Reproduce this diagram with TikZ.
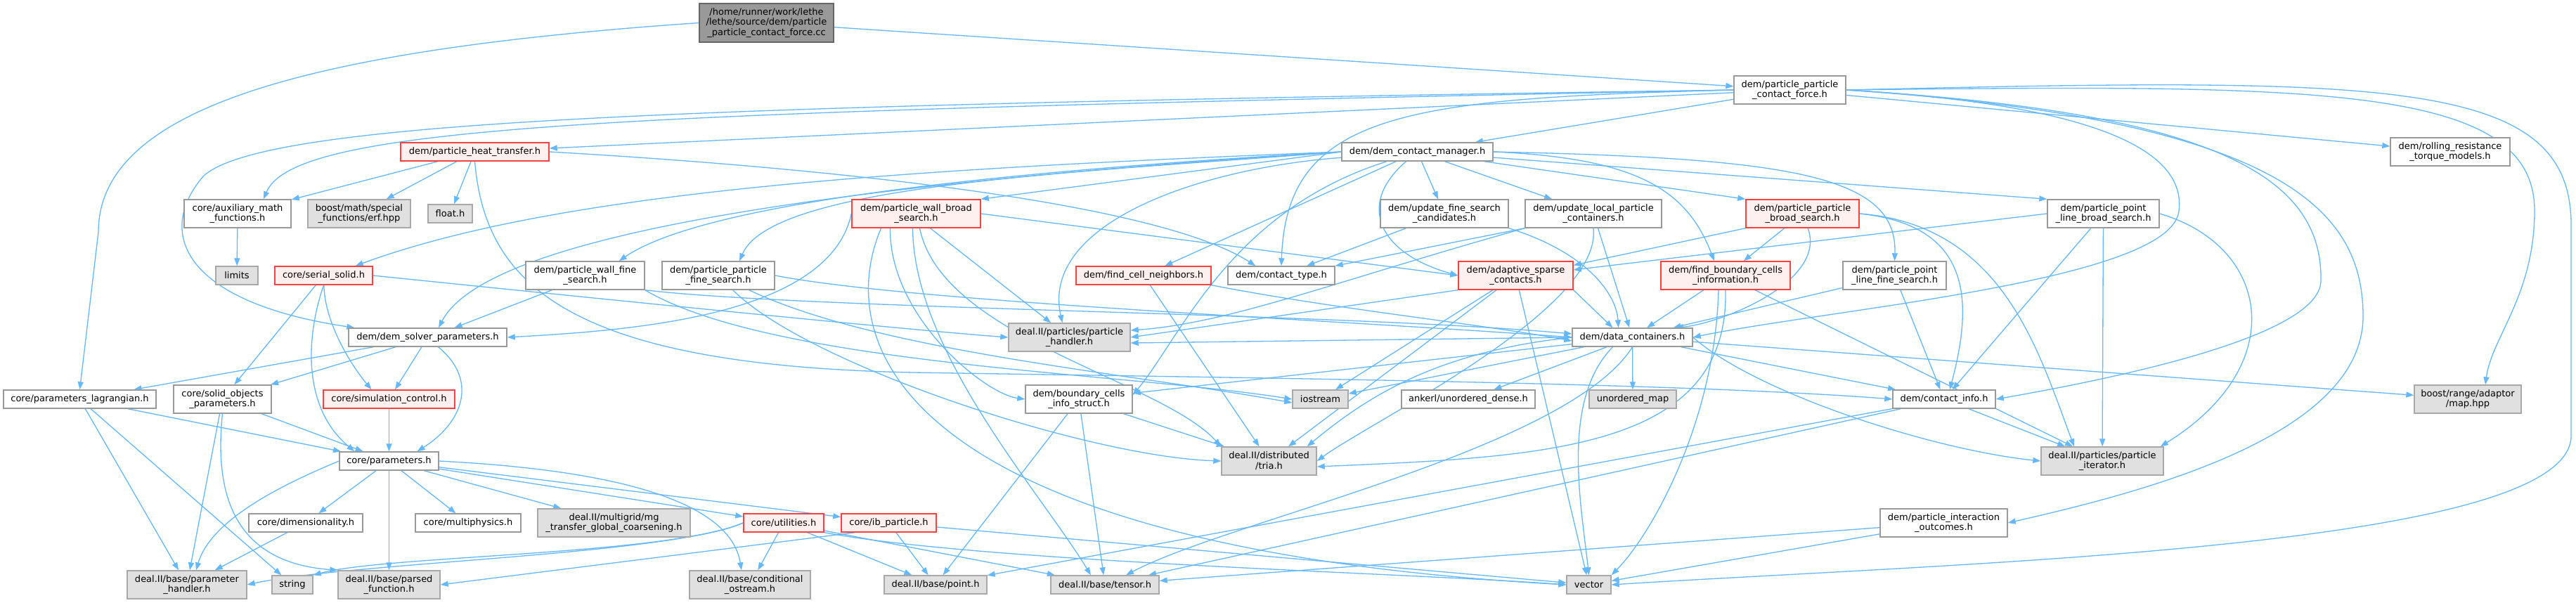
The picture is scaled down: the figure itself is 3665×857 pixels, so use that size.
\documentclass[tikz,border=0pt]{standalone}
\usepackage{fontspec}
\setmainfont{DejaVu Sans}
\usetikzlibrary{arrows.meta,backgrounds}
\definecolor{edgec}{HTML}{63B8FF}
\definecolor{wborder}{HTML}{999999}
\definecolor{rborder}{HTML}{FF4040}
\definecolor{rfill}{HTML}{FFF0F0}
\definecolor{gfill}{HTML}{E0E0E0}
\definecolor{gborder}{HTML}{A8A8A8}
\definecolor{sfill}{HTML}{999999}
\definecolor{sborder}{HTML}{666666}
\tikzset{
  basenode/.style={draw, inner sep=0pt, align=center, line width=1.4pt, font=\fontsize{13pt}{14.7pt}\selectfont},
  wnode/.style={basenode, draw=wborder, fill=white},
  rnode/.style={basenode, draw=rborder, fill=rfill},
  gnode/.style={basenode, draw=gborder, fill=gfill},
  snode/.style={basenode, draw=sborder, fill=sfill},
  edg/.style={draw=edgec, line width=1.3pt, -{Triangle[length=11pt,width=8pt]}},
}
\newcommand\mknode[7]{\node[#2, minimum width=#5pt, minimum height=#6pt] (#1) at (#3,#4) {#7};}
\begin{document}
\begin{tikzpicture}[x=1pt,y=-1pt]
\useasboundingbox (0,0) rectangle (3665,857);
% nodes
\mknode{src}{snode}{1090.5}{32.5}{191}{55}{/home/runner/work/lethe\\/lethe/source/dem/particle\\\_particle\_contact\_force.cc}
\mknode{ppcf}{wnode}{2546.5}{128}{159}{40}{dem/particle\_particle\\\_contact\_force.h}
\mknode{heat}{rnode}{675.5}{216}{211}{26}{dem/particle\_heat\_transfer.h}
\mknode{dcm}{wnode}{2016.5}{216}{215}{26}{dem/dem\_contact\_manager.h}
\mknode{rolling}{wnode}{3486}{216}{170}{40}{dem/rolling\_resistance\\\_torque\_models.h}
\mknode{auxmath}{wnode}{338}{304}{152}{40}{core/auxiliary\_math\\\_functions.h}
\mknode{erf}{gnode}{511}{304}{146}{40}{boost/math/special\\\_functions/erf.hpp}
\mknode{float}{gnode}{640.5}{304}{63}{26}{float.h}
\mknode{pwbroad}{rnode}{1303.5}{304}{183}{40}{dem/particle\_wall\_broad\\\_search.h}
\mknode{ufsc}{wnode}{2055}{304}{182}{40}{dem/update\_fine\_search\\\_candidates.h}
\mknode{ulpc}{wnode}{2267}{304}{194}{40}{dem/update\_local\_particle\\\_containers.h}
\mknode{ppbroad}{rnode}{2564.5}{304}{161}{40}{dem/particle\_particle\\\_broad\_search.h}
\mknode{pplbroad}{wnode}{2992.5}{304}{159}{40}{dem/particle\_point\\\_line\_broad\_search.h}
\mknode{limits}{gnode}{337}{392}{60}{26}{limits}
\mknode{serial}{rnode}{460.5}{392}{139}{26}{core/serial\_solid.h}
\mknode{pwfine}{wnode}{832.5}{392}{169}{40}{dem/particle\_wall\_fine\\\_search.h}
\mknode{ppfine}{wnode}{1022}{392}{160}{40}{dem/particle\_particle\\\_fine\_search.h}
\mknode{findcell}{rnode}{1627}{392}{192}{26}{dem/find\_cell\_neighbors.h}
\mknode{contacttype}{wnode}{1823}{392}{152}{26}{dem/contact\_type.h}
\mknode{adaptive}{rnode}{2156.5}{392}{163}{40}{dem/adaptive\_sparse\\\_contacts.h}
\mknode{findbound}{rnode}{2455}{392}{184}{40}{dem/find\_boundary\_cells\\\_information.h}
\mknode{pplfine}{wnode}{2695.5}{392}{147}{40}{dem/particle\_point\\\_line\_fine\_search.h}
\mknode{solverparams}{wnode}{608.5}{480}{225}{26}{dem/dem\_solver\_parameters.h}
\mknode{handler}{gnode}{1521.5}{480}{173}{40}{deal.II/particles/particle\\\_handler.h}
\mknode{datacont}{wnode}{2322.5}{480}{171}{26}{dem/data\_containers.h}
\mknode{paramlag}{wnode}{113.5}{568}{217}{26}{core/parameters\_lagrangian.h}
\mknode{solidobj}{wnode}{316.5}{568}{139}{40}{core/solid\_objects\\\_parameters.h}
\mknode{simctrl}{rnode}{553.5}{568}{187}{26}{core/simulation\_control.h}
\mknode{bcinfo}{wnode}{1535}{568}{152}{40}{dem/boundary\_cells\\\_info\_struct.h}
\mknode{iostream}{gnode}{1878.5}{568}{79}{26}{iostream}
\mknode{ankerl}{wnode}{2089}{568}{190}{26}{ankerl/unordered\_dense.h}
\mknode{umap}{gnode}{2323}{568}{124}{26}{unordered\_map}
\mknode{contactinfo}{wnode}{2766}{568}{146}{26}{dem/contact\_info.h}
\mknode{mapHpp}{gnode}{3511}{568}{152}{40}{boost/range/adaptor\\/map.hpp}
\mknode{params}{wnode}{553.5}{656}{141}{26}{core/parameters.h}
\mknode{tria}{gnode}{1805.5}{656}{135}{40}{deal.II/distributed\\/tria.h}
\mknode{piter}{gnode}{2991}{656}{174}{40}{deal.II/particles/particle\\\_iterator.h}
\mknode{dim}{wnode}{435}{744}{162}{26}{core/dimensionality.h}
\mknode{multiphys}{wnode}{666}{744}{150}{26}{core/multiphysics.h}
\mknode{mg}{gnode}{873.5}{744}{217}{40}{deal.II/multigrid/mg\\\_transfer\_global\_coarsening.h}
\mknode{utilities}{rnode}{1115}{744}{114}{26}{core/utilities.h}
\mknode{ib}{rnode}{1264.5}{744}{135}{26}{core/ib\_particle.h}
\mknode{outcomes}{wnode}{2765.5}{744}{181}{40}{dem/particle\_interaction\\\_outcomes.h}
\mknode{phandler}{gnode}{266}{832}{170}{40}{deal.II/base/parameter\\\_handler.h}
\mknode{string}{gnode}{416}{832}{58}{26}{string}
\mknode{parsed}{gnode}{553.5}{832}{145}{40}{deal.II/base/parsed\\\_function.h}
\mknode{condostream}{gnode}{1067}{832}{172}{40}{deal.II/base/conditional\\\_ostream.h}
\mknode{point}{gnode}{1331}{832}{146}{26}{deal.II/base/point.h}
\mknode{tensor}{gnode}{1572}{832}{154}{26}{deal.II/base/tensor.h}
\mknode{vector}{gnode}{2260.5}{832}{63}{26}{vector}

\begin{pgfonlayer}{background}
\fill[white] (0,0) rectangle (3665,857);
% straight edges
\foreach \a/\b in {src/ppcf, ppcf/dcm, ppcf/heat, ppcf/rolling,
  heat/auxmath, heat/erf, heat/float, auxmath/limits,
  dcm/findcell, dcm/ufsc, dcm/ulpc, serial/solidobj,
  ufsc/contacttype, ulpc/datacont, findcell/tria,
  adaptive/tria, adaptive/iostream, adaptive/vector,
  findbound/datacont, findbound/piter, ppbroad/findbound,
  pplbroad/contactinfo, pplbroad/piter, pplfine/datacont, pplfine/contactinfo,
  solverparams/paramlag, solverparams/solidobj, solverparams/simctrl,
  paramlag/params, paramlag/phandler, paramlag/string,
  solidobj/params, solidobj/phandler, simctrl/params,
  params/dim, params/multiphys, params/mg, params/utilities, params/ib, params/parsed,
  dim/phandler, utilities/condostream, utilities/point, utilities/tensor,
  ib/point, ib/vector, bcinfo/point, bcinfo/tensor, bcinfo/tria,
  datacont/bcinfo, datacont/iostream, datacont/ankerl, datacont/umap,
  datacont/contactinfo, datacont/mapHpp,
  contactinfo/piter, contactinfo/point, contactinfo/tensor,
  outcomes/tensor, outcomes/vector}
  \draw[edg] (\a) -- (\b);
% src
\draw[edg] (src.west) .. controls (450,70) and (140,150) .. (140,330) -- (paramlag.north);
% ppcf
\draw[edg] (ppcf.west) .. controls (900,160) and (420,175) .. ([xshift=37pt]auxmath.north);
\draw[edg] (ppcf.west) .. controls (1000,150) and (380,170) .. (290,250) .. controls (220,330) and (260,430) .. ([xshift=9pt]solverparams.north west);
\draw[edg] (ppcf.west) .. controls (2000,140) and (1830,160) .. (contacttype.north);
\draw[edg] (ppcf.east) .. controls (3000,150) and (3110,220) .. (3100,300) .. controls (3090,400) and (2600,440) .. (datacont.east);
\draw[edg] (ppcf.east) .. controls (3150,160) and (3305,250) .. (3302,400) .. controls (3300,480) and (3000,540) .. (contactinfo.east);
\draw[edg] (ppcf.east) .. controls (3250,170) and (3362,300) .. (3362,450) .. controls (3362,620) and (3050,700) .. (outcomes.east);
\draw[edg] (ppcf.east) .. controls (3300,120) and (3606,120) .. (3606,300) .. controls (3606,420) and (3545,480) .. ([xshift=25pt]mapHpp.north);
\draw[edg] (ppcf.east) .. controls (3400,110) and (3658,110) .. (3658,320) -- (3658,620) .. controls (3658,780) and (2800,800) .. (vector.east);
% heat
\draw[edg] (heat.east) .. controls (1200,240) and (1650,290) .. ([xshift=40pt]contacttype.north west);
\draw[edg] (heat.south) .. controls (690,400) and (800,520) .. (1300,530) .. controls (1800,538) and (2400,545) .. (contactinfo.west);
% dcm
\draw[edg] (dcm.west) .. controls (1300,240) and (800,270) .. ([xshift=-25pt]serial.north east);
\draw[edg] (dcm.west) .. controls (1400,245) and (1000,290) .. ([xshift=-37pt]pwfine.north east);
\draw[edg] (dcm.west) .. controls (1550,245) and (1100,260) .. ([xshift=30pt]ppfine.north);
\draw[edg] (dcm.west) -- (pwbroad.north east);
\draw[edg] (dcm.west) .. controls (1300,255) and (700,320) .. ([xshift=15.5pt]solverparams.north);
\draw[edg] (dcm) .. controls (1930,290) and (1960,360) .. (adaptive.west);
\draw[edg] (dcm.east) .. controls (2330,225) and (2400,270) .. ([xshift=-16pt]findbound.north);
\draw[edg] (dcm) -- (ppbroad.north west);
\draw[edg] (dcm) -- (pplbroad.north west);
\draw[edg] (dcm.east) .. controls (2550,225) and (2700,250) .. (pplfine.north);
\draw[edg] (dcm) .. controls (1700,240) and (1480,320) .. ([xshift=-10pt]handler.north);
\draw[edg] (dcm) .. controls (1750,300) and (1680,480) .. ([yshift=6pt]bcinfo.east);
% serial
\draw[edg] (serial) .. controls (462,460) and (500,520) .. ([xshift=-25pt]simctrl.north);
\draw[edg] (serial.south) .. controls (435,480) and (430,580) .. ([xshift=22pt]params.north west);
\draw[edg] (serial.east) .. controls (900,430) and (1300,470) .. (handler.west);
% pwfine / ppfine
\draw[edg] ([xshift=38pt]pwfine.south west) -- ([xshift=38pt]solverparams.north);
\draw[edg] (pwfine.south east) .. controls (1150,440) and (1900,445) .. ([yshift=5pt]datacont.west);
\draw[edg] (pwfine.south east) .. controls (1100,520) and (1600,530) .. (iostream.west);
\draw[edg] (ppfine.east) .. controls (1300,430) and (1900,455) .. (datacont.west);
\draw[edg] (ppfine) .. controls (1150,520) and (1550,650) .. (tria.west);
\draw[edg] (ppfine) .. controls (1250,500) and (1600,530) .. ([yshift=-5pt]iostream.west);
% pwbroad
\draw[edg] (pwbroad.west) .. controls (1180,450) and (900,470) .. (solverparams.east);
\draw[edg] (pwbroad.east) -- (adaptive.west);
\draw[edg] ([xshift=20pt]pwbroad.south) -- (handler);
\draw[edg] ([xshift=-37pt]pwbroad.south) .. controls (1265,450) and (1400,560) .. (bcinfo.west);
\draw[edg] ([xshift=5pt]pwbroad.south) .. controls (1340,480) and (1650,540) .. (tria.north west);
\draw[edg] ([xshift=-5pt]pwbroad.south) .. controls (1300,500) and (1480,700) .. ([xshift=-20pt]tensor.north);
\draw[edg] ([xshift=-50pt]pwbroad.south) .. controls (1180,500) and (1300,780) .. (vector.west);
% ufsc / ulpc
\draw[edg] (ufsc.south east) .. controls (2260,360) and (2300,420) .. ([xshift=-20pt]datacont.north);
\draw[edg] (ulpc.south west) -- (contacttype.north east);
\draw[edg] (ulpc.south west) .. controls (1900,400) and (1750,460) .. ([yshift=10pt]handler.east);
\draw[edg] (ulpc.south) .. controls (2280,440) and (1950,600) .. (tria.east);
% findcell
\draw[edg] (findcell.south east) .. controls (1900,440) and (2100,460) .. ([yshift=-5pt]datacont.west);
% adaptive
\draw[edg] (adaptive.south east) -- ([xshift=-28pt]datacont.north);
\draw[edg] (adaptive.south west) -- (handler.east);
% findbound
\draw[edg] (findbound.south) .. controls (2460,640) and (2200,650) .. ([yshift=-8pt]tria.east);
\draw[edg] ([xshift=-10pt]findbound.south) .. controls (2440,600) and (2350,760) .. (vector.north east);
% ppbroad
\draw[edg] (ppbroad.south west) -- ([yshift=-6pt]adaptive.north east);
\draw[edg] (ppbroad) .. controls (2600,400) and (2450,460) .. ([xshift=-25pt]datacont.north east);
\draw[edg] (ppbroad.east) .. controls (2800,320) and (2810,420) .. ([xshift=8pt]contactinfo.north);
\draw[edg] (ppbroad.east) .. controls (2850,320) and (2900,500) .. ([xshift=-40pt]piter.north);
% pplbroad
\draw[edg] (pplbroad.west) -- ([yshift=8pt]adaptive.east);
\draw[edg] (pplbroad.east) .. controls (3230,350) and (3260,520) .. ([xshift=-5pt]piter.north east);
% solverparams
\draw[edg] ([xshift=15pt]solverparams.south) .. controls (680,540) and (660,600) .. ([xshift=40pt]params.north);
% solidobj
\draw[edg] (solidobj.south) .. controls (305,700) and (330,800) .. (parsed.north west);
% params
\draw[edg] (params.west) .. controls (400,690) and (300,740) .. ([xshift=13pt]phandler.north);
\draw[edg] (params.east) .. controls (900,670) and (1040,720) .. ([xshift=-12pt]condostream.north);
% utilities
\draw[edg] (utilities.west) .. controls (950,790) and (500,800) .. (phandler.east);
\draw[edg] (utilities.west) .. controls (950,790) and (550,790) .. (string.north east);
\draw[edg] (utilities.south east) .. controls (1400,800) and (2000,815) .. (vector.west);
\draw[edg] ([xshift=20pt]ib.south west) -- (parsed.east);
% datacont
\draw[edg] (datacont.west) -- ([yshift=-8pt]handler.east);
\draw[edg] (datacont.south) .. controls (2230,640) and (1750,740) .. ([xshift=30pt]tensor.north);
\draw[edg] ([xshift=-28pt]datacont.south) .. controls (2220,570) and (2250,720) .. (vector.north);
\draw[edg] (datacont.west) .. controls (2050,500) and (1950,560) .. ([xshift=-14pt]tria.north east);
\draw[edg] (datacont.east) .. controls (2500,560) and (2750,640) .. (piter.west);
\end{pgfonlayer}
\end{tikzpicture}
\end{document}
